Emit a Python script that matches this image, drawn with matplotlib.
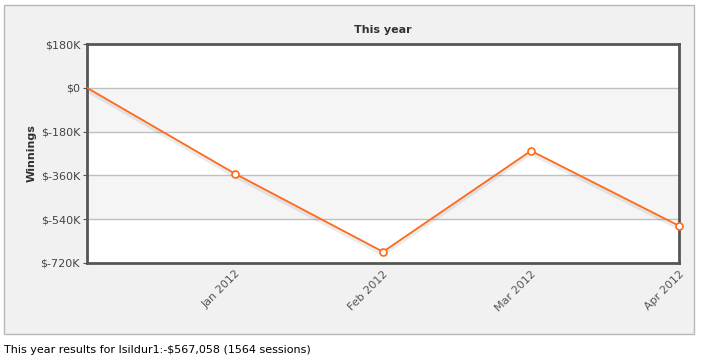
import numpy as np
import matplotlib.pyplot as plt
from matplotlib.patches import Rectangle

# data
months = ['', 'Jan 2012', 'Feb 2012', 'Mar 2012', 'Apr 2012']
winnings = [0, -353000, -674000, -259000, -567058]
yticks = [180000, 0, -180000, -360000, -540000, -720000]
ylabels = ['$180K', '$0', '$-180K', '$-360K', '$-540K', '$-720K']

orange = '#ff6a1a'

fig = plt.figure(figsize=(7.04, 3.63), dpi=100)
fig.patch.set_facecolor('white')

# grey panel behind the chart
bg = fig.add_axes([0, 0, 1, 1], zorder=-1)
bg.set_xlim(0, 704)
bg.set_ylim(363, 0)
bg.axis('off')
bg.add_patch(Rectangle((3.5, 4.5), 690, 329, facecolor='#f0f1f0', edgecolor='#b8b8b8', lw=1))

ax = fig.add_axes([87/704, 1-263/363, 592/704, 219/363], zorder=1)
ax.set_facecolor('white')

x = np.arange(len(winnings))
ax.set_xlim(0, len(winnings)-1)
ax.set_ylim(-720000, 180000)

# alternating bands
for i in range(len(yticks)-1):
    if i % 2 == 1:
        ax.axhspan(yticks[i+1], yticks[i], color='#f5f5f5', zorder=0)
for t in yticks[1:-1]:
    ax.axhline(t, color='#c0c0c0', lw=1, zorder=1)

# faint shadow then the line
ax.plot(x, np.array(winnings) - 9000, color='#000000', alpha=0.08, lw=3, zorder=2)
ax.plot(x, winnings, color=orange, lw=1.3, zorder=3)
ax.plot(x[1:], winnings[1:], 'o', ms=5, mfc='white', mec=orange, mew=1.2, zorder=4,
        clip_on=False)

ax.set_yticks(yticks)
ax.set_yticklabels(ylabels, fontsize=8, color='#444444')
ax.set_xticks(x[1:])
ax.set_xticklabels(months[1:], rotation=45, ha='right', rotation_mode='anchor',
                   fontsize=8, color='#555555')
ax.tick_params(axis='x', length=0, pad=4)
ax.tick_params(axis='y', length=3, color='#555555', pad=2)

for s in ax.spines.values():
    s.set_color('#555555')
    s.set_linewidth(2)

ax.set_ylabel('Winnings', fontsize=8, fontweight='bold', color='#333333', labelpad=3)
ax.set_title('This year', fontsize=8, fontweight='bold', color='#333333', pad=8)

fig.text(4/704, 1-350/363, 'This year results for Isildur1:-$567,058 (1564 sessions)',
         fontsize=8, color='black', va='center', ha='left')

fig.savefig('out.png', dpi=100)
